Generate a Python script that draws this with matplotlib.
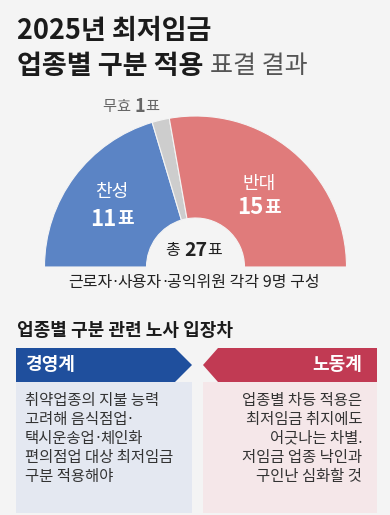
import matplotlib.pyplot as plt
from matplotlib.patches import Wedge, Polygon, Rectangle

plt.rcParams['font.family'] = ['Noto Sans CJK KR', 'DejaVu Sans']

# vote result
vote_labels = ['찬성', '무효', '반대']
votes = [11, 1, 15]
vote_colors = ['#5b84c5', '#cdcdcd', '#e07b7b']
total_note = '근로자·사용자·공익위원 각각 9명 구성'

# positions of each side
side_titles = ['경영계', '노동계']
side_texts = [
    ['취약업종의 지불 능력', '고려해 음식점업·', '택시운송업·체인화',
     '편의점업 대상 최저임금', '구분 적용해야'],
    ['업종별 차등 적용은', '최저임금 취지에도', '어긋나는 차별.',
     '저임금 업종 낙인과', '구인난 심화할 것'],
]

BG = '#f4f4f4'
W, H = 390, 515

fig = plt.figure(figsize=(W / 100, H / 100), dpi=100, facecolor=BG)
ax = fig.add_axes([0, 0, 1, 1])
ax.set_xlim(0, W)
ax.set_ylim(H, 0)
ax.axis('off')
renderer = fig.canvas.get_renderer()


def runs(x, y, parts, ha='left'):
    # parts: list of (text, kwargs); draw side by side, 1 data unit = 1 px
    objs = []
    for s, kw in parts:
        t = ax.text(0, y, s, va='center', ha='left', **kw)
        objs.append(t)
    widths = [t.get_window_extent(renderer).width for t in objs]
    total = sum(widths)
    if ha == 'center':
        x = x - total / 2
    elif ha == 'right':
        x = x - total
    for t, w in zip(objs, widths):
        t.set_x(x)
        x += w


def dotted(x, y, s, ha='left', **kw):
    # the CJK font draws a wide middle dot, use a narrow one
    parts = []
    pieces = s.split('·')
    for i, p in enumerate(pieces):
        if p:
            parts.append((p, kw))
        if i < len(pieces) - 1:
            parts.append(('·', dict(kw, family='DejaVu Sans')))
    runs(x, y, parts, ha=ha)


# title
ax.text(17, 31, '2025년 최저임금', fontsize=19.5, fontweight='bold',
        color='#1b1b1b', va='center')
runs(17, 66, [('업종별 구분 적용 ', dict(fontsize=19.5, fontweight='bold', color='#1b1b1b')),
              ('표결 결과', dict(fontsize=18, color='#555555'))])

# half donut
cx, cy, R, r_in = 195.5, 267, 151, 49
total = sum(votes)
start = 180.0
for lab, v, c in zip(vote_labels, votes, vote_colors):
    span = 180.0 * v / total
    ax.add_patch(Wedge((cx, cy), R, start, start + span, width=R - r_in,
                       facecolor=c, edgecolor='#f4f4f4', linewidth=0.8))
    start += span

ax.text(112, 192, vote_labels[0], fontsize=13, color='white', ha='center', va='center')
runs(112, 219, [(str(votes[0]), dict(fontsize=16, fontweight='bold', color='white')),
                ('표', dict(fontsize=13, fontweight='bold', color='white'))], ha='center')
ax.text(259, 184, vote_labels[2], fontsize=13, color='white', ha='center', va='center')
runs(259, 208, [(str(votes[2]), dict(fontsize=16, fontweight='bold', color='white')),
                ('표', dict(fontsize=13, fontweight='bold', color='white'))], ha='center')
runs(131, 106, [(vote_labels[1] + ' ', dict(fontsize=11, color='#666666')),
                (str(votes[1]), dict(fontsize=13, fontweight='bold', color='#666666')),
                ('표', dict(fontsize=11, color='#666666'))], ha='center')
runs(194, 250, [('총 ', dict(fontsize=11.5, color='#222222')),
                (str(total), dict(fontsize=14, fontweight='bold', color='#222222')),
                ('표', dict(fontsize=11.5, color='#222222'))], ha='center')
dotted(194, 283, total_note, ha='center', fontsize=11.5, color='#222222')

# second section
ax.text(17, 330, '업종별 구분 관련 노사 입장차', fontsize=13, fontweight='bold',
        color='#1b1b1b', va='center')

top, mid, bot, bottom = 348, 365, 382, 513
ax.add_patch(Polygon([(16, top), (175, top), (192, mid), (175, bot), (16, bot)],
                     closed=True, facecolor='#1f4f9d', edgecolor='none'))
ax.add_patch(Polygon([(377, top), (218, top), (203, mid), (218, bot), (377, bot)],
                     closed=True, facecolor='#c13a53', edgecolor='none'))
ax.add_patch(Rectangle((16, bot), 176, bottom - bot, facecolor='#e4e8f1', edgecolor='none'))
ax.add_patch(Rectangle((203, bot), 174, bottom - bot, facecolor='#f5e7e9', edgecolor='none'))

ax.text(25, 365, side_titles[0], fontsize=13, fontweight='bold', color='white', va='center')
ax.text(362, 365, side_titles[1], fontsize=13, fontweight='bold', color='white',
        va='center', ha='right')

y0, dy = 400, 19.2
for i, line in enumerate(side_texts[0]):
    dotted(25, y0 + i * dy, line, fontsize=11.1, color='#333333')
for i, line in enumerate(side_texts[1]):
    dotted(362, y0 + i * dy, line, ha='right', fontsize=11.1, color='#333333')

fig.savefig('out.png', dpi=100, facecolor=BG)
